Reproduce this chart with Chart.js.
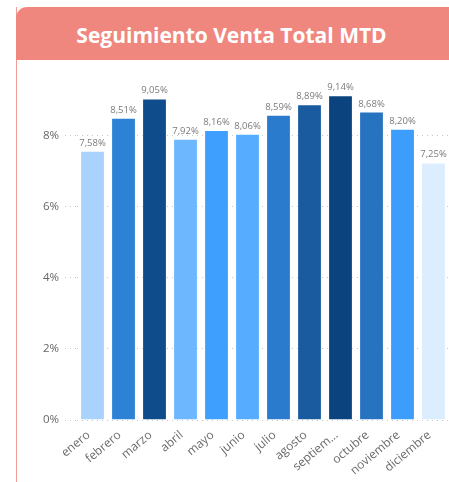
<!DOCTYPE html>
<html>
<head>
<meta charset="utf-8">
<script src="https://cdn.jsdelivr.net/npm/chart.js@4/dist/chart.umd.min.js"></script>
<style>
  html, body { margin: 0; padding: 0; background: #fff; width: 449px; height: 482px; overflow: hidden; }
  #panel { position: absolute; left: 16px; top: 7px; width: 460px; height: 500px; border-left: 1px solid #F29C96; }
  #header { position: absolute; left: 16px; top: 7px; width: 460px; height: 53px; background: #F0877F;
            border-top-left-radius: 11px; color: #fff; font-family: "Open Sans", "Noto Sans", sans-serif;
            font-weight: 700; font-size: 21px; line-height: 57px; }
  #header span { position: absolute; left: 0; width: 431px; text-align: center; top: 0; height: 53px; }
  #wrap { position: absolute; left: 17px; top: 60px; width: 432px; height: 422px; }
</style>
</head>
<body>
<div id="panel"></div>
<div id="header"><span>Seguimiento Venta Total MTD</span></div>
<div id="wrap"><canvas id="c"></canvas></div>
<script>
// Monthly MTD sales share (%)
const months = ['enero', 'febrero', 'marzo', 'abril', 'mayo', 'junio', 'julio', 'agosto', 'septiembre', 'octubre', 'noviembre', 'diciembre'];
const ventaPct = [7.58, 8.51, 9.05, 7.92, 8.16, 8.06, 8.59, 8.89, 9.14, 8.68, 8.20, 7.25];
const barColors = ['#A9D3FD', '#2D82D6', '#0E4C8B', '#6DB7FF', '#3F9FFF', '#56ADFF', '#2A7ACD', '#195B9E', '#0B437F', '#2873C0', '#3C9DFD', '#DCEDFF'];
const yTicks = [0, 2, 4, 6, 8];

const fmt = v => v.toFixed(2).replace('.', ',') + '%';

const valueLabels = {
  id: 'valueLabels',
  afterDatasetsDraw(chart) {
    const ctx = chart.ctx;
    const meta = chart.getDatasetMeta(0);
    ctx.save();
    ctx.font = '9.5px "Open Sans", "Noto Sans", sans-serif';
    ctx.fillStyle = '#7a7a7a';
    ctx.textAlign = 'center';
    ctx.textBaseline = 'bottom';
    meta.data.forEach((bar, i) => {
      ctx.fillText(fmt(ventaPct[i]), bar.x, bar.y - 3);
    });
    ctx.restore();
  }
};

new Chart(document.getElementById('c'), {
  type: 'bar',
  data: {
    labels: months,
    datasets: [{
      data: ventaPct,
      backgroundColor: barColors,
      borderColor: 'rgba(255,255,255,0.35)',
      borderWidth: 1,
      categoryPercentage: 0.8,
      barPercentage: 1.0
    }]
  },
  options: {
    responsive: true,
    maintainAspectRatio: false,
    animation: false,
    layout: { padding: { top: 4, right: 0, left: 0, bottom: 0 } },
    plugins: { legend: { display: false }, tooltip: { enabled: false } },
    scales: {
      x: {
        grid: { display: false },
        border: { display: false },
        ticks: {
          autoSkip: false,
          minRotation: 40,
          maxRotation: 40,
          color: '#6a6a6a',
          padding: 0,
          labelOffset: -4,
          font: { family: '"Open Sans", "Noto Sans", sans-serif', size: 12 },
          callback: function (v) {
            const s = this.getLabelForValue(v);
            return s.length > 9 ? s.slice(0, 7) + '...' : s;
          }
        },
        afterFit(scale) { scale.height = 62; }
      },
      y: {
        min: 0,
        max: 9.77,
        afterBuildTicks(scale) { scale.ticks = yTicks.map(v => ({ value: v })); },
        grid: {
          color: '#c8c8c8',
          tickColor: '#c8c8c8',
          borderDash: [1, 4],
          tickBorderDash: [1, 4],
          tickLength: 12,
          lineWidth: 1
        },
        border: { display: false, dash: [1, 4] },
        ticks: {
          color: '#666',
          padding: 6,
          font: { family: '"Open Sans", "Noto Sans", sans-serif', size: 11.5 },
          callback: v => v + '%'
        },
        afterFit(scale) { scale.width = 60; }
      }
    }
  },
  plugins: [valueLabels]
});
</script>
</body>
</html>
